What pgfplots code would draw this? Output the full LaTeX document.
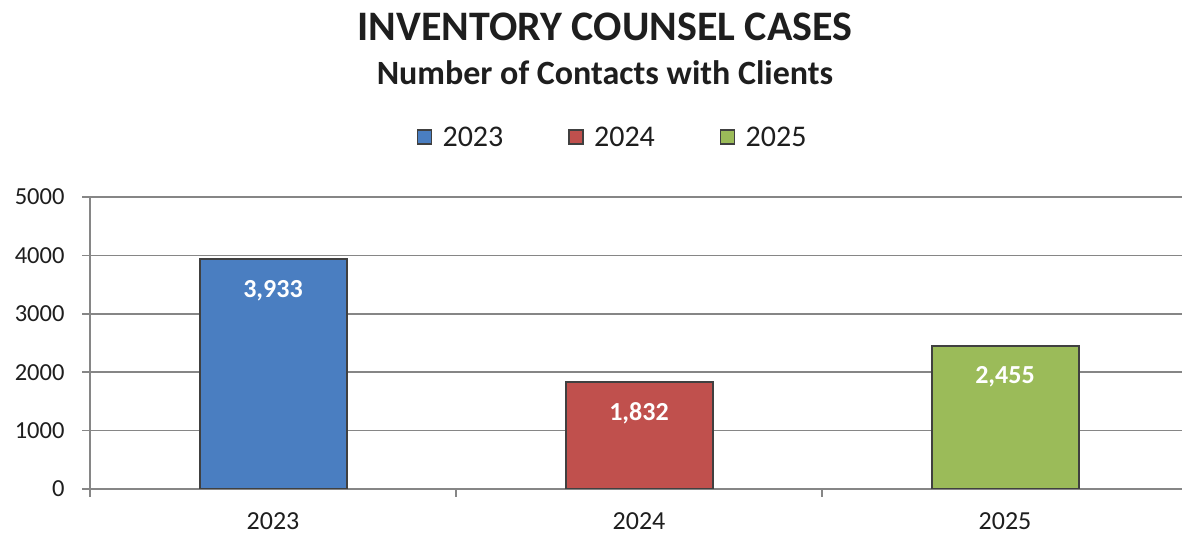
\documentclass[border=0pt]{standalone}
\usepackage{pgfplots}
\pgfplotsset{compat=1.18}
\usepackage{fontspec}
\setmainfont{Carlito}
\definecolor{cblue}{RGB}{74,126,193}
\definecolor{cred}{RGB}{192,80,77}
\definecolor{cgreen}{RGB}{155,187,89}
\definecolor{cedge}{RGB}{64,64,64}
\definecolor{cgrid}{RGB}{134,134,134}
\definecolor{ctext}{RGB}{30,30,30}
\begin{document}
\begin{tikzpicture}
\node[font=\bfseries\fontsize{42}{50}\selectfont, text=ctext] at (605pt,507pt) {INVENTORY COUNSEL CASES};
\node[font=\bfseries\fontsize{34}{40}\selectfont, text=ctext] at (605pt,461pt) {Number of Contacts with Clients};
\begin{axis}[
  at={(90pt,45pt)}, anchor=south west,
  scale only axis, width=1098pt, height=292pt,
  xmin=-0.5, xmax=2.5, ymin=0, ymax=5000,
  axis x line*=bottom, axis y line*=left,
  axis line style={cgrid, line width=1.5pt},
  xtick={0,1,2}, xticklabels={2023,2024,2025},
  minor xtick={-0.5,0.5,1.5,2.5},
  major x tick style={draw=none},
  minor tick length=8pt,
  ytick={0,1000,2000,3000,4000,5000},
  major tick length=8pt,
  tick align=outside,
  tick style={cgrid, line width=1.5pt},
  ymajorgrids, grid style={cgrid, line width=1.5pt},
  y tick label style={/pgf/number format/1000 sep={}, /pgf/number format/assume math mode=true, font=\fontsize{24.5}{29}\selectfont, text=ctext, xshift=-14pt},
  x tick label style={font=\fontsize{26}{31}\selectfont, text=ctext, yshift=-12pt},
  ybar, bar width=147pt, bar shift=0pt,
  point meta=explicit symbolic,
  nodes near coords,
  every node near coord/.append style={anchor=north, yshift=-20pt, inner sep=0pt, text=white, font=\bfseries\fontsize{26}{31}\selectfont},
  legend style={draw=none, at={(axis description cs:0.476,1.205)}, anchor=center, font=\fontsize{30}{36}\selectfont, text=ctext, /tikz/every even column/.append style={column sep=63pt}},
  legend columns=3,
  legend image code/.code={\draw[#1, line width=1.5pt] (0pt,-7pt) rectangle (14pt,7pt); \path[draw=none, fill=none] (0pt,0pt) rectangle (23pt,0pt);},
]
\addplot[fill=cblue, draw=cedge, line width=2pt] coordinates {(0,3933) [3,933]};
\addplot[fill=cred, draw=cedge, line width=2pt] coordinates {(1,1832) [1,832]};
\addplot[fill=cgreen, draw=cedge, line width=2pt] coordinates {(2,2455) [2,455]};
\legend{2023,2024,2025}
\end{axis}
\pgfresetboundingbox
\path[use as bounding box] (0,0) rectangle (1182pt,534pt);
\end{tikzpicture}
\end{document}
